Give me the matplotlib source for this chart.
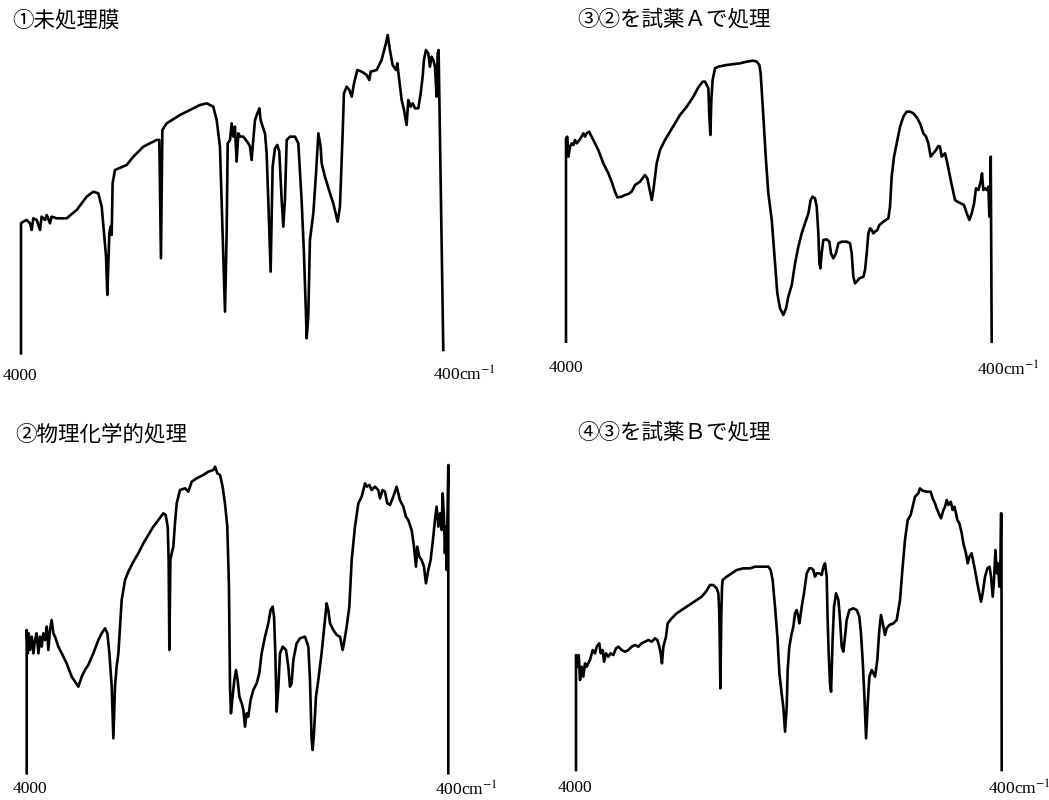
import matplotlib
matplotlib.use('Agg')
import matplotlib.pyplot as plt

plt.rcParams['font.family'] = ['Noto Sans CJK JP', 'DejaVu Sans']
plt.rcParams['mathtext.fontset'] = 'stix'

W, H = 1049, 800

# ① 未処理膜 : wavenumber (cm-1) / transmittance (arb.)
wn_1 = [4000, 4000, 3980, 3952, 3923, 3909, 3895, 3866, 3838, 3824,
        3795, 3781, 3753, 3739, 3696, 3611, 3525, 3440, 3383, 3341,
        3312, 3292, 3275, 3264, 3247, 3236, 3227, 3219, 3199, 3099,
        3042, 2957, 2844, 2821, 2807, 2795, 2758, 2645, 2474, 2417,
        2361, 2332, 2304, 2281, 2261, 2247, 2238, 2218, 2204, 2190,
        2176, 2162, 2147, 2133, 2105, 2062, 2048, 2034, 2020, 2005,
        1985, 1968, 1957, 1940, 1920, 1906, 1892, 1872, 1855, 1835,
        1815, 1798, 1778, 1764, 1750, 1735, 1707, 1664, 1636, 1608,
        1588, 1571, 1565, 1551, 1537, 1508, 1485, 1465, 1446, 1437,
        1409, 1366, 1338, 1301, 1281, 1258, 1247, 1224, 1201, 1181,
        1161, 1133, 1096, 1053, 1031, 1019, 968, 926, 889, 874,
        855, 832, 803, 792, 784, 755, 735, 713, 698, 678,
        661, 641, 613, 593, 576, 565, 548, 528, 514, 500,
        485, 471, 457, 448, 440, 400]
t_1 = [0, 39, 39.5, 40, 39, 37, 40.5, 40, 37, 41,
       40, 41.5, 39, 41, 40.5, 40.5, 43, 47, 48.5, 48,
       44, 36, 29, 17.5, 36, 38, 35.5, 51, 55, 56.5,
       59, 62, 64, 64, 28.5, 67, 69, 71.5, 74.5, 75,
       74, 70, 62, 36, 12.5, 36, 63, 64, 69, 65,
       68, 57.5, 66, 65, 65, 63, 62, 58, 64, 70,
       72, 73.5, 70, 68, 66, 60, 46, 24.5, 56, 61.5,
       62.5, 60.5, 46, 38, 46, 64, 65, 65, 63, 46,
       30, 12, 4.5, 11, 34, 42, 54, 66, 62, 57,
       53, 48, 45, 39.5, 44, 66, 78, 80, 79, 77,
       81, 85, 84.5, 83.5, 82, 84.5, 85, 88, 93, 95.5,
       91, 86.5, 85, 87, 84.5, 76, 73, 68.5, 76, 74,
       75, 73.5, 73.5, 78, 83, 88, 91, 90, 86, 89,
       88, 86, 77, 90, 91, 1]

# ② 物理化学的処理
wn_2 = [4000, 4000, 3991, 3983, 3972, 3957, 3943, 3929, 3915, 3900,
        3886, 3872, 3858, 3843, 3829, 3815, 3801, 3787, 3772, 3758,
        3730, 3701, 3659, 3616, 3587, 3559, 3530, 3502, 3474, 3431,
        3388, 3360, 3331, 3311, 3294, 3274, 3260, 3246, 3232, 3217,
        3203, 3189, 3160, 3132, 3089, 3047, 3004, 2961, 2919, 2876,
        2833, 2813, 2796, 2788, 2782, 2773, 2762, 2748, 2734, 2719,
        2691, 2648, 2620, 2591, 2549, 2492, 2449, 2406, 2392, 2372,
        2349, 2327, 2307, 2287, 2273, 2264, 2256, 2242, 2227, 2213,
        2199, 2184, 2164, 2150, 2136, 2122, 2108, 2088, 2065, 2036,
        2014, 1994, 1965, 1937, 1917, 1900, 1888, 1877, 1866, 1851,
        1837, 1814, 1786, 1766, 1752, 1738, 1723, 1695, 1666, 1624,
        1595, 1581, 1567, 1558, 1547, 1530, 1510, 1482, 1453, 1439,
        1425, 1410, 1382, 1353, 1325, 1302, 1291, 1268, 1245, 1225,
        1197, 1168, 1140, 1111, 1097, 1074, 1055, 1026, 998, 983,
        961, 941, 921, 898, 870, 841, 813, 784, 762, 742,
        713, 693, 676, 665, 648, 628, 608, 591, 571, 551,
        528, 514, 500, 485, 471, 457, 448, 437, 429, 420,
        414, 400, 400]
t_2 = [0, 43, 36, 42, 37, 41, 36, 40, 42, 36,
       41, 38, 42, 40, 44, 37, 43, 46, 42, 41,
       38, 36, 33, 29, 27.5, 26, 29, 31, 32.5, 36,
       40, 42, 43.5, 42, 36, 26, 10.5, 26, 32, 36,
       44, 52, 58, 60.5, 63.5, 66, 69, 71.5, 74, 76,
       78, 77.5, 74, 64, 37, 64, 66, 68, 75, 81,
       85, 85.5, 84.5, 87.5, 88.5, 89.5, 90.5, 91, 92, 90,
       89.5, 86, 81, 74, 56, 26, 18, 23, 28, 31,
       28, 23, 21, 19, 14, 18, 17, 22, 25, 27,
       30, 36, 41, 45, 49, 50, 47, 36, 18.5, 26,
       36, 38, 37, 32, 26, 27, 34, 39, 40.5, 41,
       38, 28, 10, 7, 12, 23, 28, 36, 46, 51,
       49, 45, 43, 41.5, 41, 37, 39, 44, 50, 64,
       74, 81, 83, 87, 86, 86.5, 85, 86, 85, 82.5,
       85, 84.5, 81, 80.5, 83, 86, 82, 80, 77, 76,
       73, 68, 62, 68, 65, 64, 62, 57, 61, 64,
       71, 76, 80, 74, 78, 73, 84, 77, 66, 74,
       61, 92.5, 0]

# ③ ②を試薬Aで処理
wn_3 = [4000, 4000, 3989, 3980, 3966, 3952, 3938, 3924, 3910, 3887,
        3868, 3853, 3839, 3825, 3803, 3791, 3769, 3727, 3684, 3642,
        3614, 3586, 3566, 3529, 3501, 3473, 3445, 3416, 3374, 3332,
        3312, 3295, 3275, 3261, 3233, 3205, 3163, 3120, 3078, 3036,
        2979, 2923, 2881, 2844, 2824, 2810, 2796, 2788, 2779, 2771,
        2760, 2740, 2712, 2641, 2528, 2472, 2416, 2387, 2365, 2354,
        2345, 2331, 2309, 2289, 2260, 2232, 2213, 2190, 2162, 2139,
        2120, 2091, 2063, 2035, 2007, 1979, 1950, 1931, 1914, 1894,
        1880, 1866, 1857, 1849, 1838, 1824, 1796, 1773, 1759, 1739,
        1717, 1697, 1669, 1626, 1598, 1584, 1570, 1556, 1542, 1519,
        1485, 1471, 1457, 1443, 1429, 1415, 1401, 1387, 1367, 1350,
        1316, 1274, 1260, 1246, 1226, 1203, 1175, 1147, 1119, 1091,
        1063, 1034, 1006, 978, 955, 936, 916, 894, 871, 851,
        837, 823, 809, 795, 781, 758, 738, 710, 690, 662,
        634, 611, 589, 569, 549, 533, 513, 493, 482, 471,
        456, 442, 428, 420, 414, 408, 400]
t_3 = [0, 61, 61.5, 55.5, 58.5, 59.5, 59, 60.5, 59.5, 60.5,
       61.5, 62.5, 61.5, 62.5, 63, 62, 60.5, 57.5, 53.5, 50.5,
       48, 45, 43.3, 43.5, 44, 44.3, 45, 47, 48, 50,
       49, 46, 42.5, 45.5, 53.5, 57.5, 60.5, 63, 65.5, 68,
       70.5, 73.5, 76.3, 78, 78, 77, 76, 67.5, 62, 72.5,
       78.5, 82, 82.5, 83, 83.5, 84, 84.3, 84, 83, 80.5,
       75.5, 67.5, 54.5, 44.5, 36.5, 23.5, 14.5, 10, 8, 10,
       13.5, 17, 23.5, 28.5, 32.5, 35.5, 38.5, 42.5, 43.5, 43,
       40.5, 32.5, 23.5, 22, 26.5, 30.5, 30.7, 30, 26.5, 25,
       26.5, 29.5, 30, 30, 29.5, 26.5, 19.5, 17.5, 18, 19,
       19.5, 21.5, 26.5, 32.5, 34, 33.5, 32.5, 33, 33.5, 35,
       36, 37, 40.5, 49.5, 55.5, 59.5, 64.5, 67.5, 69, 69,
       68.5, 67.3, 65.5, 62.5, 61.5, 59.5, 55.5, 56.5, 57.5, 58.7,
       58.5, 55.5, 56, 56.5, 54.5, 50.5, 47, 42.5, 42, 41.5,
       41, 38.5, 36.5, 38.5, 41.5, 46, 45.5, 48, 50.5, 45.5,
       46, 45.5, 46.5, 37.5, 40.5, 55.5, 0]

# ④ ③を試薬Bで処理
wn_4 = [4000, 4000, 3989, 3977, 3966, 3952, 3938, 3924, 3910, 3882,
        3859, 3839, 3825, 3803, 3791, 3774, 3763, 3746, 3727, 3707,
        3684, 3662, 3642, 3614, 3586, 3557, 3529, 3501, 3473, 3445,
        3416, 3388, 3360, 3332, 3312, 3295, 3284, 3273, 3261, 3239,
        3225, 3191, 3149, 3106, 3064, 3022, 2979, 2937, 2901, 2867,
        2839, 2810, 2796, 2788, 2779, 2771, 2765, 2760, 2726, 2683,
        2641, 2585, 2528, 2486, 2430, 2373, 2354, 2337, 2317, 2297,
        2280, 2261, 2247, 2232, 2218, 2210, 2196, 2176, 2162, 2148,
        2134, 2120, 2111, 2091, 2072, 2049, 2027, 2007, 1993, 1979,
        1965, 1942, 1922, 1908, 1894, 1880, 1872, 1863, 1852, 1843,
        1829, 1818, 1801, 1781, 1767, 1753, 1739, 1725, 1711, 1688,
        1655, 1626, 1604, 1590, 1576, 1561, 1547, 1533, 1519, 1499,
        1471, 1452, 1435, 1421, 1406, 1387, 1373, 1350, 1316, 1288,
        1260, 1240, 1218, 1195, 1170, 1153, 1133, 1105, 1091, 1068,
        1034, 1001, 984, 964, 950, 927, 913, 893, 879, 865,
        851, 831, 814, 800, 786, 775, 758, 738, 724, 702,
        688, 673, 654, 640, 626, 606, 589, 575, 561, 541,
        521, 503, 490, 476, 465, 453, 442, 431, 420, 411,
        406, 402, 400]
t_4 = [0, 34.5, 31, 34.5, 27, 31, 28, 32, 31, 33,
       36, 35, 37, 38, 35, 36, 32.5, 35, 34, 35,
       34.5, 36.5, 37, 36, 35.5, 36, 37, 37.5, 37, 38,
       38.5, 39, 38.5, 39.5, 39, 37, 35, 32, 37, 40,
       44, 45.5, 47, 48, 49, 50, 51, 52, 53.5, 55.5,
       55.5, 54.5, 53, 47, 24.5, 47, 55, 57, 58, 59,
       60, 60.5, 60.5, 61, 61, 61, 60, 57, 49, 40,
       29, 23, 19, 11.5, 19, 30, 37, 41, 43, 47,
       48, 46, 44, 49, 53, 59, 60.5, 60.5, 60, 58,
       59, 59, 58.5, 61, 62, 58, 45, 35, 26, 23.5,
       40, 49, 53, 51, 45, 37, 35.5, 40, 45, 48,
       48.5, 48, 46, 41, 33, 22, 9.5, 20, 28, 30,
       28, 33, 42, 46.5, 44, 40.5, 42.5, 43.5, 44, 45,
       51, 60, 69, 75, 76.5, 79, 82, 83, 84.5, 83.8,
       83.5, 83.5, 81.5, 80, 78.5, 76.5, 75.5, 78, 79, 81,
       79.5, 80.5, 78, 79, 77, 75, 74, 71, 68, 65,
       62, 64, 65, 62.5, 60, 56, 53, 50.5, 53, 58,
       60.5, 61, 58, 52, 57, 66, 59, 62, 55, 61,
       77, 77, 0]

titles = ['①未処理膜', '②物理化学的処理', '③②を試薬Ａで処理', '④③を試薬Ｂで処理']
x_start, x_end = '4000', '400cm$^{-1}$'

fig = plt.figure(figsize=(W / 100, H / 100), dpi=100)

def px_box(left, top, right, bottom):
    return [left / W, 1 - bottom / H, (right - left) / W, (bottom - top) / H]

def put(x, y, s, **kw):
    fig.text(x / W, 1 - y / H, s, **kw)

# panel frames in pixels: left, top (T=100), right, bottom (T=0)
panels = [
    (wn_1, t_1, (21, 20, 443.3, 353.3), (12, 21), (20, 376), (433, 375)),
    (wn_2, t_2, (26.7, 440, 448.3, 773.3), (15, 435), (30, 789), (435, 790)),
    (wn_3, t_3, (566, 8.3, 991.7, 341.7), (577, 20), (566, 368), (977, 370)),
    (wn_4, t_4, (576, 436.7, 1001.7, 770), (577, 433), (575, 788), (988, 789)),
]

for (wn, t, box, tpos, lpos, rpos), title in zip(panels, titles):
    ax = fig.add_axes(px_box(*box))
    ax.plot(wn, t, color='black', lw=1.9, solid_joinstyle='round', clip_on=False)
    ax.set_xlim(4000, 400)
    ax.set_ylim(0, 100)
    ax.axis('off')
    put(tpos[0], tpos[1], title, fontsize=15.5, ha='left', va='center')
    put(lpos[0], lpos[1], x_start, fontsize=12.5, family='Liberation Serif',
        ha='center', va='center')
    put(rpos[0], rpos[1], x_end, fontsize=12.5, family='Liberation Serif',
        ha='left', va='center')

fig.savefig('out.png', dpi=100, facecolor='white')
